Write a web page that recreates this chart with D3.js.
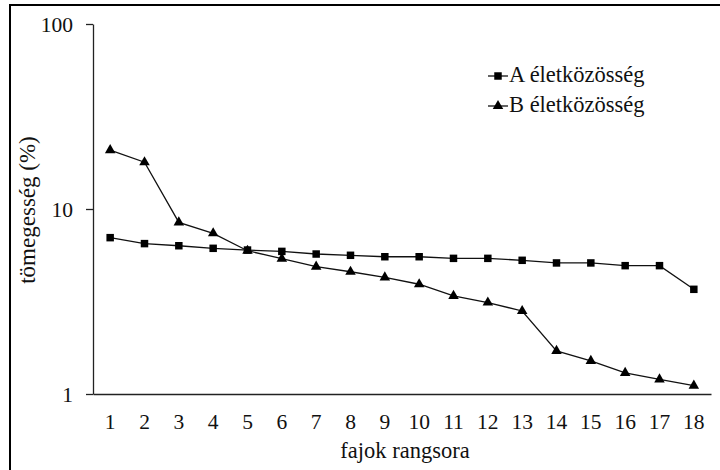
<!DOCTYPE html>
<html>
<head>
<meta charset="utf-8">
<script src="https://cdn.jsdelivr.net/npm/d3@7"></script>
<style>
  body { margin: 0; background: #fff; }
  svg, svg text { font-family: "Liberation Serif", "Times New Roman", Tinos, "DejaVu Serif", serif !important; }
</style>
</head>
<body>
<div id="chart"></div>
<script>
// fajok rangsora (rank of species)
let ranks = [1, 2, 3, 4, 5, 6, 7, 8, 9, 10, 11, 12, 13, 14, 15, 16, 17, 18];
// tömegesség (%) for the two communities
let seriesA = [7.0, 6.5, 6.33, 6.13, 6.0, 5.9, 5.71, 5.62, 5.52, 5.52, 5.41, 5.41, 5.28, 5.11, 5.11, 4.94, 4.94, 3.68];
let seriesB = [20.8, 17.9, 8.47, 7.39, 5.95, 5.39, 4.88, 4.58, 4.27, 3.92, 3.39, 3.12, 2.81, 1.71, 1.51, 1.30, 1.20, 1.11];
let yTicks = [1, 10, 100];
let seriesNames = ["A életközösség", "B életközösség"];

let width = 720, height = 470;
let svg = d3.select("#chart").append("svg")
    .attr("width", width)
    .attr("height", height);

// outer frame
svg.append("rect")
    .attr("x", 10).attr("y", 5)
    .attr("width", 740).attr("height", 500)
    .attr("fill", "none")
    .attr("stroke", "#000")
    .attr("stroke-width", 2);

let x = d3.scaleBand()
    .domain(ranks)
    .range([93, 711]);

let y = d3.scaleLog()
    .domain([1, 100])
    .range([394, 24]);

let cx = d => x(d) + x.bandwidth() / 2;

// y axis
let yAxis = svg.append("g")
    .attr("transform", "translate(93,0)")
    .call(d3.axisLeft(y).tickValues(yTicks).tickFormat(d3.format("d")).tickSize(7).tickSizeOuter(0));
yAxis.attr("font-family", null);
yAxis.select(".domain").attr("stroke", "#222").attr("stroke-width", 1.3);
yAxis.selectAll(".tick line").attr("stroke", "#222").attr("stroke-width", 1.3);
yAxis.selectAll(".tick text")
    .attr("x", -20)
    .attr("dy", "0.34em")
    .attr("font-size", 21.5)
    .attr("fill", "#111");

// x axis
let xAxis = svg.append("g")
    .attr("transform", "translate(0,394)")
    .call(d3.axisBottom(x).tickSize(0).tickSizeOuter(0));
xAxis.attr("font-family", null);
xAxis.select(".domain").attr("stroke", "#222").attr("stroke-width", 1.3);
xAxis.selectAll(".tick text")
    .attr("y", 35)
    .attr("dy", 0)
    .attr("font-size", 21.5)
    .attr("fill", "#111");

// axis titles
svg.append("text")
    .attr("x", 405).attr("y", 458)
    .attr("text-anchor", "middle")
    .attr("font-size", 22.5)
    .attr("fill", "#111")
    .text("fajok rangsora");

svg.append("text")
    .attr("transform", "translate(35,210) rotate(-90)")
    .attr("text-anchor", "middle")
    .attr("font-size", 23)
    .attr("fill", "#111")
    .text("tömegesség (%)");

let line = d3.line()
    .x((d, i) => cx(ranks[i]))
    .y(d => y(d));

let squareSym = d3.symbol().type(d3.symbolSquare).size(56);
let triSym = d3.symbol().type(d3.symbolTriangle).size(48);

function drawSeries(values, sym) {
    svg.append("path")
        .datum(values)
        .attr("d", line)
        .attr("fill", "none")
        .attr("stroke", "#111")
        .attr("stroke-width", 1.3);
    svg.append("g").selectAll("path")
        .data(values)
        .join("path")
        .attr("transform", (d, i) => `translate(${cx(ranks[i])},${y(d)})`)
        .attr("d", sym)
        .attr("fill", "#000");
}

drawSeries(seriesA, squareSym);
drawSeries(seriesB, triSym);

// legend
let legend = svg.append("g").attr("transform", "translate(488,0)");
let legendRows = [
    {name: seriesNames[0], sym: squareSym, y: 76},
    {name: seriesNames[1], sym: triSym, y: 106}
];
legendRows.forEach(r => {
    legend.append("line")
        .attr("x1", 0).attr("x2", 20)
        .attr("y1", r.y).attr("y2", r.y)
        .attr("stroke", "#111").attr("stroke-width", 1.3);
    legend.append("path")
        .attr("transform", `translate(10,${r.y})`)
        .attr("d", r.sym)
        .attr("fill", "#000");
    legend.append("text")
        .attr("x", 21).attr("y", r.y + 6)
        .attr("font-size", 22.5)
        .attr("fill", "#111")
        .text(r.name);
});
</script>
</body>
</html>
